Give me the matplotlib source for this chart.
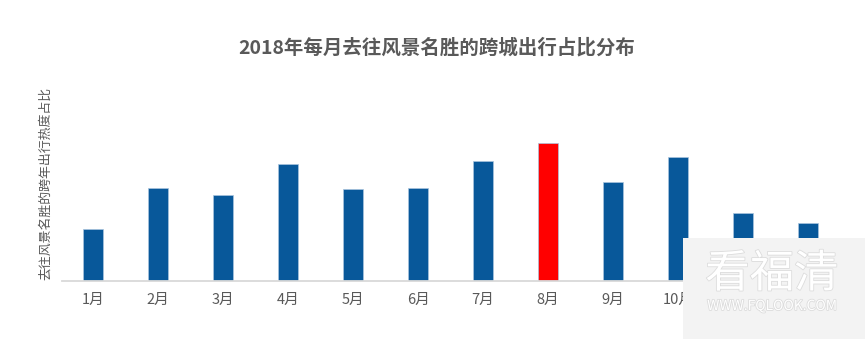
import numpy as np
import matplotlib.pyplot as plt
import matplotlib.patheffects as pe
from matplotlib.patches import Rectangle

plt.rcParams['font.family'] = ['Noto Sans CJK SC', 'DejaVu Sans']

months = ['1月', '2月', '3月', '4月', '5月', '6月', '7月', '8月', '9月', '10月', '11月', '12月']
share = [5.15, 9.3, 8.6, 11.7, 9.2, 9.3, 12.0, 13.75, 9.9, 12.35, 6.8, 5.75]
highlight = '8月'

title = '2018年每月去往风景名胜的跨城出行占比分布'
ylabel = '去往风景名胜的跨年出行热度占比'

blue = '#08589a'
red = '#ff0000'
grey = '#595959'
colors = [red if m == highlight else blue for m in months]

fig = plt.figure(figsize=(8.65, 3.39), dpi=100)
ax = fig.add_axes([62 / 865, 58.5 / 339, 777 / 865, 195.5 / 339])

x = np.arange(len(months))
ax.bar(x, share, width=0.31, color=colors, edgecolor='#a9c4de', linewidth=0.5)
ax.set_xlim(-0.48, len(months) - 0.52)
ax.set_ylim(0, 19.55)

ax.set_xticks(x)
ax.set_xticklabels(months, color=grey, fontsize=10.5)
ax.tick_params(axis='x', length=0, pad=9)
ax.set_yticks([])
for s in ['top', 'right', 'left']:
    ax.spines[s].set_visible(False)
ax.spines['bottom'].set_color('#d9d9d9')
ax.spines['bottom'].set_linewidth(1.3)

fig.text(437 / 865, 1 - 48 / 339, title, ha='center', va='center',
         fontsize=14, fontweight='bold', color=grey)
fig.text(46 / 865, 1 - 183 / 339, ylabel, ha='center', va='center',
         rotation=90, fontsize=9.3, color=grey)

# watermark box in the lower right corner
fig.add_artist(Rectangle((683 / 865, 0), 182 / 865, 101 / 339,
                         transform=fig.transFigure, facecolor='#f3f3f3',
                         edgecolor='none', zorder=5))
outline = [pe.withStroke(linewidth=1.2, foreground='#dcdcdc')]
fig.text(772 / 865, 1 - 274 / 339, '看福清', ha='center', va='center',
         fontsize=32, fontweight='light', color='white', zorder=6,
         path_effects=outline)
fig.text(772 / 865, 1 - 306 / 339, 'WWW.FQLOOK.COM', ha='center', va='center',
         fontsize=10, color='white', zorder=6, path_effects=outline)

fig.savefig('out.png')
